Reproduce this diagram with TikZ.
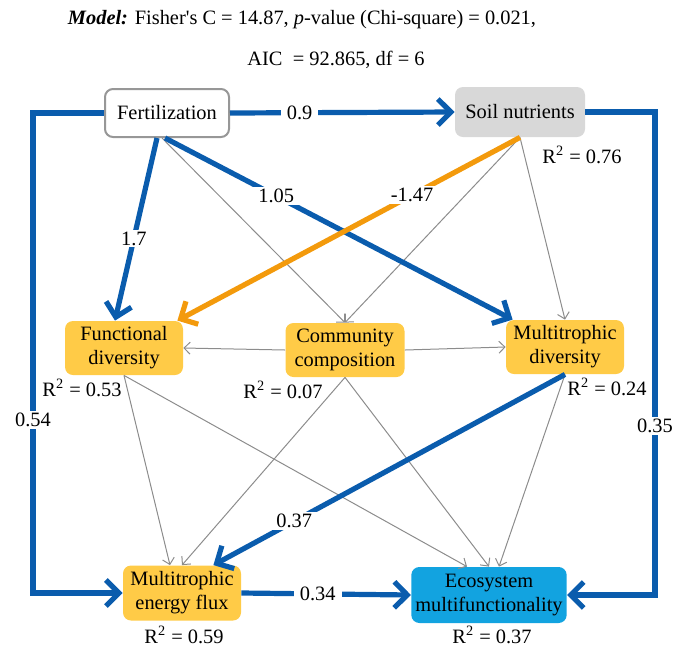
\documentclass[tikz,border=0pt]{standalone}
\usepackage{fontspec}
\setmainfont{Liberation Serif}
\usetikzlibrary{arrows.meta, positioning, calc}
\definecolor{cblue}{HTML}{0A5CAD}
\definecolor{corange}{HTML}{F39A0C}
\definecolor{cyellow}{HTML}{FFCB47}
\definecolor{csky}{HTML}{12A3E0}
\definecolor{csoil}{HTML}{D8D8D8}
\definecolor{cgrey}{HTML}{8C8C8C}
\tikzset{
  every picture/.style={font=\fontsize{10.2}{12}\selectfont},
  box/.style={fill=#1, rounded corners=4pt, align=center, inner sep=2pt, minimum width=59pt, minimum height=27pt},
  box/.default=cyellow,
  strong/.style={-{Straight Barb[length=6.5pt, width=13pt]}, draw=#1, line width=2.6pt},
  strong/.default=cblue,
  weak/.style={-{Straight Barb[length=3pt, width=6pt]}, draw=cgrey, line width=0.5pt},
  coef/.style={fill=white, inner xsep=3pt, inner ysep=1pt},
  rsq/.style={inner sep=0pt},
}
\begin{document}
\begin{tikzpicture}[x=0.5pt, y=-0.5pt]
  \useasboundingbox (0,0) rectangle (676,645);
  % model fit
  \node (fit1) at (302,20) {\textbf{\textit{Model:}} Fisher\textquotesingle s C = 14.87, \textit{p}-value (Chi-square) = 0.021,};
  \node (fit2) at (336,60) {AIC\ \ = 92.865, df = 6};
  % variables
  \node[box=white, draw=cgrey!90, line width=1pt, minimum width=62pt, minimum height=24pt] (fert) at (167,113) {Fertilization};
  \node[box=csoil, minimum width=65pt, minimum height=25pt] (soil) at (520,112) {Soil nutrients};
  \node[box] (fd) at (124,348) {Functional\\diversity};
  \node[box, minimum width=59.5pt] (cc) at (345,350) {Community\\composition};
  \node[box] (md) at (565,347) {Multitrophic\\diversity};
  \node[box, minimum height=27.5pt] (mef) at (182,593) {Multitrophic\\energy flux};
  \node[box=csky, minimum width=76pt, minimum height=28pt] (em) at (489,595) {Ecosystem\\multifunctionality};
  % explained variance
  \node[rsq] (r2soil) at (582,155) {R\textsuperscript{2} = 0.76};
  \node[rsq] (r2fd) at (82,388) {R\textsuperscript{2} = 0.53};
  \node[rsq] (r2cc) at (283,390) {R\textsuperscript{2} = 0.07};
  \node[rsq] (r2md) at (607,387) {R\textsuperscript{2} = 0.24};
  \node[rsq] (r2mef) at (184,635) {R\textsuperscript{2} = 0.59};
  \node[rsq] (r2em) at (492,635) {R\textsuperscript{2} = 0.37};
  \coordinate (leftx) at (33,0);
  \coordinate (rightx) at (655,0);
  % non-significant paths
  \draw[weak] ([xshift=-2.5pt]fert.south) -- (cc.north);
  \draw[weak] (soil.south) -- (cc.north);
  \draw[weak] (soil.south) -- (md.north);
  \draw[weak] (cc.west) -- (fd.east);
  \draw[weak] (cc.east) -- (md.west);
  \draw[weak] (fd.south) -- ([xshift=-6pt]mef.north);
  \draw[weak] (fd.south) -- ([xshift=-11pt]em.north);
  \draw[weak] (cc.south) -- (mef.north);
  \draw[weak] (cc.south) -- (em.north);
  \draw[weak] (md.south) -- ([xshift=5pt]em.north);
  % significant paths
  \draw[strong] (fert.east) -- node[coef, pos=0.31] {0.9} (soil.west);
  \draw[strong] ([xshift=-5pt]fert.south) -- node[coef, pos=0.55] {1.7} ([xshift=-4.5pt]fd.north);
  \draw[strong] ([xshift=-1pt]fert.south) -- node[coef, pos=0.32] {1.05} ([xshift=3.5pt]md.north west);
  \draw[strong] (md.south) -- node[coef, pos=0.77] {0.37} ([xshift=-14pt]mef.north east);
  \draw[strong] (mef.east) -- node[coef, pos=0.45] {0.34} (em.west);
  \draw[strong] (fert.west) -- (fert.west -| leftx) -- node[coef, pos=0.64] {0.54} (mef.west -| leftx) -- (mef.west);
  \draw[strong] (soil.east) -- (soil.east -| rightx) -- node[coef, pos=0.65] {0.35} (em.east -| rightx) -- (em.east);
  \draw[strong=corange] (soil.south) -- node[coef, pos=0.315] {-1.47} ([xshift=-3pt]fd.north east);
\end{tikzpicture}
\end{document}
